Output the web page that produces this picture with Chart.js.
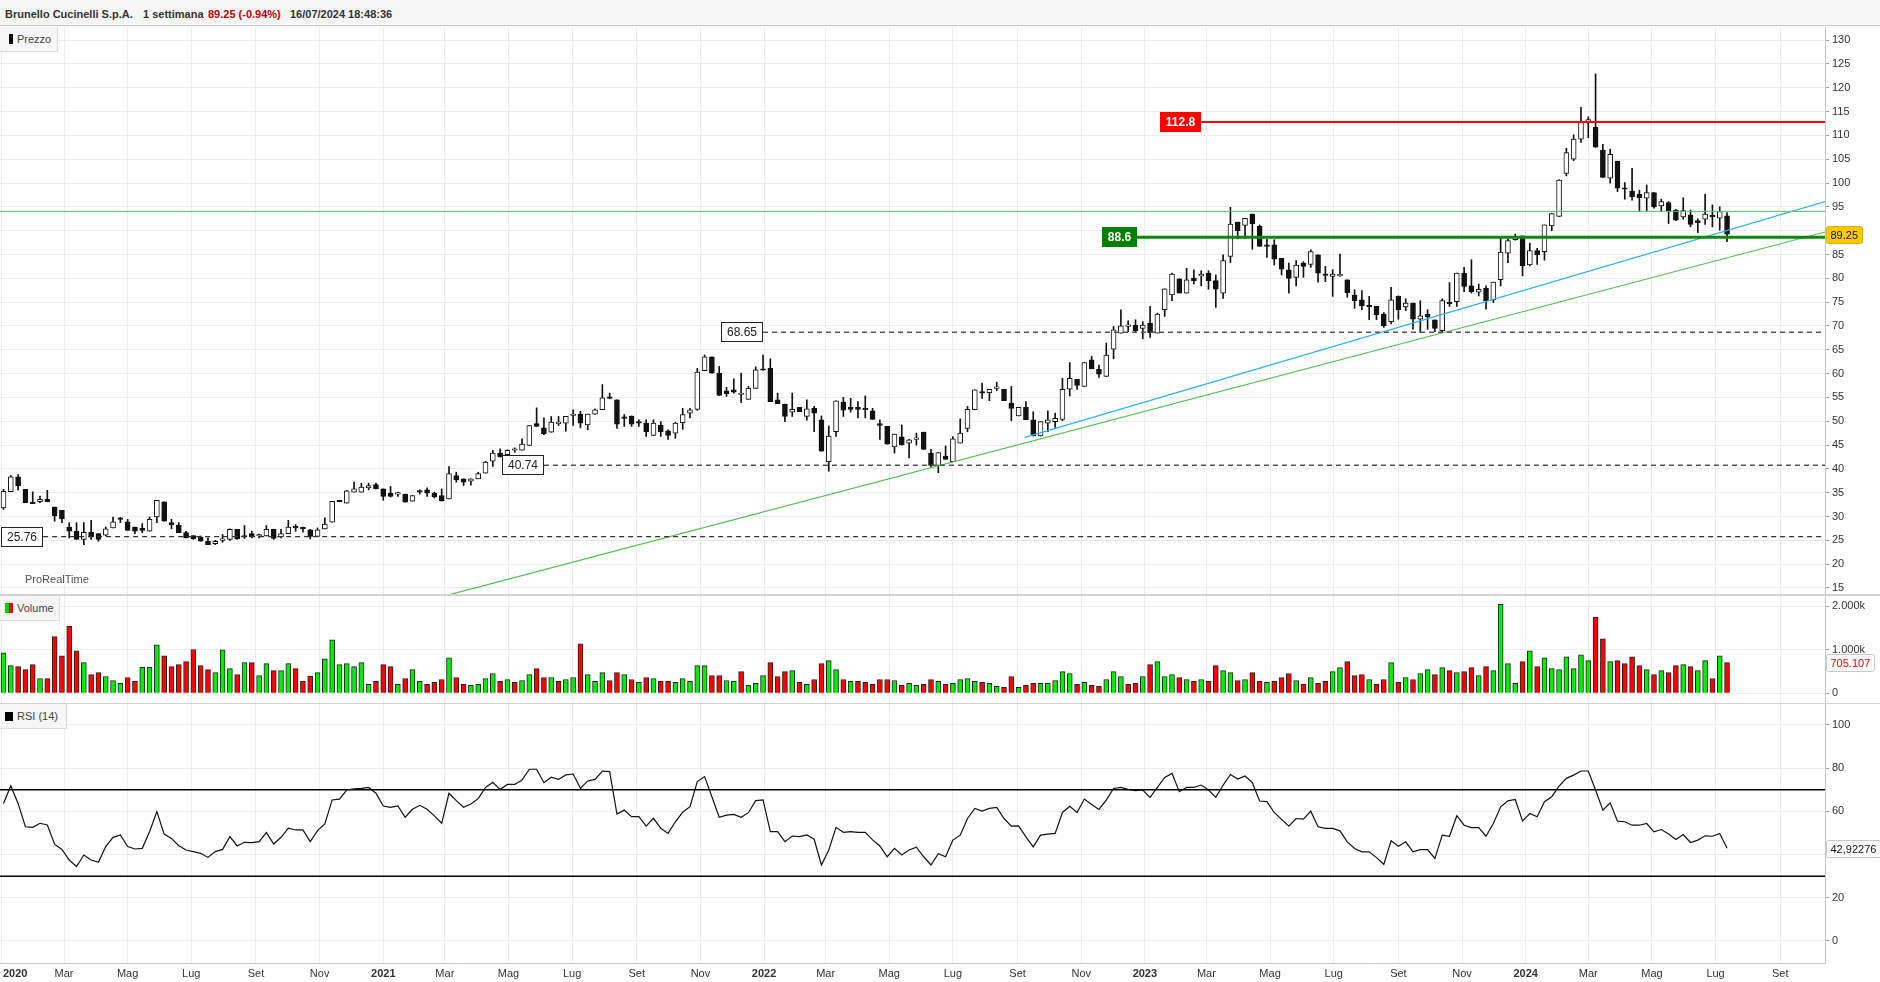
<!DOCTYPE html>
<html lang="it">
<head>
<meta charset="UTF-8">
<title>Brunello Cucinelli S.p.A. - 1 settimana</title>
<script src="https://cdn.jsdelivr.net/npm/chart.js"></script>
<style>
  html, body { margin: 0; padding: 0; background: #fff; }
  body { width: 1880px; height: 982px; position: relative; overflow: hidden;
         font-family: Arial, "Liberation Sans", sans-serif; color: #333; }
  #header { position: absolute; left: 0; top: 0; width: 1880px; height: 26px;
            background: #f6f6f6; border-bottom: 1px solid #cfcfcf; box-sizing: border-box;
            font-size: 11px; font-weight: bold; color: #333; }
  #header span { position: absolute; top: 8px; white-space: nowrap; }
  .sep { position: absolute; left: 0; width: 1880px; background: #d2d2d2; }
  canvas { position: absolute; left: 0; }
  .tag { position: absolute; left: 0; height: 25px; background: #f6f6f6; border-right: 1px solid #dcdcdc;
         border-bottom: 1px solid #dcdcdc; box-sizing: border-box; font-size: 11px; color: #444; line-height: 24px; white-space: nowrap; }
  .tag i { display: inline-block; width: 4px; height: 10px; vertical-align: -1px; margin-right: 4px; }
  #wm { position: absolute; left: 25px; top: 573px; font-size: 11px; color: #555; }
</style>
</head>
<body>
<div id="header">
  <span style="left:5px">Brunello Cucinelli S.p.A.</span>
  <span style="left:143px">1 settimana</span>
  <span style="left:208px;color:#c40000">89.25 (-0.94%)</span>
  <span style="left:290px">16/07/2024 18:48:36</span>
</div>
<canvas id="cPrice" width="1880" height="567" style="top:27px"></canvas>
<div class="sep" style="top:594px;height:2px"></div>
<canvas id="cVol" width="1880" height="107" style="top:596px"></canvas>
<div class="sep" style="top:703px;height:1px"></div>
<canvas id="cRsi" width="1880" height="278" style="top:704px"></canvas>

<div class="tag" style="top:27px;width:58px;padding-left:9px"><i style="background:#000"></i>Prezzo</div>
<div class="tag" style="top:596px;width:60px;padding-left:5px"><i style="background:#00d000;margin-right:0"></i><i style="background:#f00000"></i>Volume</div>
<div class="tag" style="top:704px;width:67px;padding-left:5px"><i style="background:#000;width:8px;height:9px"></i>RSI (14)</div>
<div id="wm">ProRealTime</div>

<script>
// ---- data (weekly candles, first week 2020-01-03) ----
const firstWeek = '2020-01-03';

const open = [
  31.8, 35.2, 38.3, 35.7, 33.0, 33.1, 33.6, 32.0, 31.3, 27.8,
  26.9, 25.2, 26.7, 26.4, 26.1, 27.6, 29.7, 28.9, 27.8, 27.5,
  26.9, 29.9, 33.1, 28.7, 28.2, 26.6, 26.0, 25.7, 24.8, 24.3,
  25.0, 25.2, 27.3, 25.9, 26.4, 25.9, 25.9, 27.3, 25.7, 26.4,
  27.7, 27.8, 27.2, 25.8, 27.4, 28.8, 33.3, 32.8, 35.1, 35.1,
  36.0, 36.7, 35.8, 34.9, 34.7, 34.7, 33.2, 35.2, 35.6, 34.9,
  34.4, 33.7, 38.6, 37.9, 37.4, 37.9, 39.1, 41.6, 43.3, 43.0,
  43.9, 43.9, 44.9, 49.5, 48.6, 47.7, 49.5, 49.6, 51.2, 51.5,
  49.2, 51.5, 52.4, 55.1, 54.5, 50.7, 51.1, 49.7, 49.6, 47.0,
  49.2, 48.0, 47.5, 49.7, 51.7, 52.5, 60.6, 63.5, 60.1, 56.4,
  56.6, 55.6, 54.6, 56.9, 60.9, 61.1, 54.5, 53.6, 51.9, 52.9,
  51.0, 52.7, 50.3, 41.5, 47.8, 54.0, 52.9, 52.9, 52.7, 52.2,
  49.5, 48.9, 44.6, 46.7, 45.4, 46.2, 47.7, 43.3, 40.7, 42.7,
  41.5, 45.4, 48.5, 52.4, 56.2, 56.0, 56.9, 56.7, 53.8, 51.1,
  52.9, 50.3, 46.9, 49.6, 49.9, 50.4, 56.7, 58.8, 57.3, 62.9,
  60.9, 59.4, 65.1, 68.5, 69.9, 70.2, 69.5, 70.6, 68.5, 73.4,
  76.5, 79.9, 76.9, 80.0, 80.5, 81.1, 79.5, 76.9, 84.6, 91.8,
  91.1, 93.5, 90.9, 87.0, 87.0, 84.2, 81.8, 80.2, 83.2, 82.9,
  84.9, 80.8, 80.4, 80.5, 79.7, 76.5, 75.5, 74.1, 74.1, 72.5,
  70.9, 76.2, 74.0, 74.8, 71.4, 72.5, 71.3, 69.0, 75.0, 75.1,
  81.1, 78.4, 77.1, 77.9, 75.5, 79.7, 85.3, 88.1, 88.9, 82.8,
  85.8, 85.6, 91.0, 93.0, 102.0, 105.0, 109.2, 113.0, 111.7, 106.9,
  101.0, 104.6, 99.0, 98.3, 97.7, 96.8, 98.0, 95.2, 95.9, 94.3,
  92.9, 93.3, 92.1, 92.4, 93.1, 92.6, 93.1
];
const high = [
  35.7, 38.6, 38.8, 35.7, 35.2, 34.3, 35.5, 32.0, 31.3, 28.7,
  28.7, 28.7, 29.2, 26.4, 27.8, 29.9, 29.8, 29.4, 27.8, 28.5,
  29.9, 33.4, 33.1, 29.4, 28.7, 26.9, 26.0, 25.9, 25.5, 25.0,
  26.2, 27.4, 27.3, 28.1, 26.9, 26.3, 28.1, 27.3, 27.3, 29.2,
  28.3, 27.8, 27.3, 27.6, 29.7, 33.2, 33.4, 35.5, 37.2, 37.0,
  37.0, 37.0, 35.8, 36.3, 35.1, 34.7, 34.4, 35.6, 36.0, 35.1,
  35.8, 40.5, 39.3, 37.9, 37.9, 39.3, 41.6, 43.9, 44.2, 44.0,
  44.4, 46.3, 49.1, 52.8, 50.7, 51.0, 51.0, 51.0, 52.4, 52.1,
  51.5, 52.6, 57.7, 55.9, 54.5, 51.4, 51.1, 50.3, 50.3, 50.3,
  49.9, 48.2, 49.8, 52.7, 52.7, 61.1, 63.9, 63.5, 61.5, 57.1,
  58.9, 60.1, 57.3, 61.4, 63.9, 63.1, 55.9, 53.6, 55.9, 52.9,
  54.5, 53.1, 51.1, 49.0, 54.3, 55.0, 54.8, 54.1, 55.3, 52.7,
  50.3, 48.9, 47.3, 49.2, 46.2, 47.5, 47.7, 44.1, 43.4, 44.8,
  46.8, 50.5, 53.1, 56.6, 58.0, 56.7, 58.2, 56.7, 57.3, 52.9,
  54.1, 52.0, 49.9, 52.2, 51.7, 59.0, 62.3, 58.8, 62.3, 63.6,
  61.8, 66.4, 69.9, 73.4, 71.1, 71.3, 70.9, 74.1, 72.7, 77.8,
  81.1, 79.9, 82.1, 81.8, 81.6, 81.6, 80.7, 84.9, 94.9, 91.8,
  92.6, 93.5, 91.2, 88.2, 88.1, 84.2, 83.2, 83.7, 83.5, 86.0,
  84.9, 82.5, 81.8, 85.1, 79.7, 77.6, 77.4, 76.2, 74.1, 72.8,
  78.1, 76.3, 75.7, 74.8, 75.3, 73.4, 71.3, 75.7, 79.1, 81.1,
  82.3, 83.9, 78.8, 78.4, 79.2, 88.6, 88.3, 89.3, 88.9, 87.4,
  86.3, 91.2, 93.6, 100.7, 107.3, 110.1, 115.9, 113.9, 122.9, 108.1,
  107.1, 104.6, 100.1, 103.1, 98.5, 99.6, 98.0, 96.6, 96.1, 94.5,
  96.9, 94.3, 92.5, 97.7, 95.4, 95.0, 93.8
];
const low = [
  31.5, 35.2, 35.5, 32.9, 32.7, 32.9, 33.1, 29.0, 28.7, 25.5,
  25.2, 24.1, 25.2, 24.8, 25.9, 27.6, 28.7, 27.1, 26.4, 26.6,
  26.9, 28.7, 29.0, 27.4, 26.6, 25.5, 25.2, 24.8, 24.1, 24.1,
  24.6, 25.0, 25.2, 25.4, 25.5, 25.5, 25.9, 25.2, 25.5, 26.4,
  26.9, 26.7, 25.3, 25.8, 27.4, 28.8, 33.1, 32.8, 35.1, 35.1,
  35.6, 35.8, 33.4, 34.1, 34.2, 33.0, 33.2, 34.7, 34.2, 33.9,
  33.2, 33.7, 37.2, 36.5, 36.6, 37.9, 39.1, 40.5, 42.5, 42.8,
  43.5, 43.9, 44.9, 48.9, 47.2, 47.7, 49.1, 47.9, 49.1, 48.6,
  48.2, 51.4, 52.4, 54.7, 48.5, 48.9, 48.9, 48.9, 46.8, 47.0,
  46.8, 46.2, 46.4, 48.3, 50.7, 52.3, 60.6, 60.1, 55.4, 55.2,
  55.9, 53.9, 54.6, 56.9, 60.7, 54.1, 53.7, 49.9, 51.0, 52.0,
  50.2, 47.8, 43.7, 39.5, 46.8, 51.0, 51.9, 50.7, 50.7, 50.4,
  46.2, 45.2, 43.3, 45.0, 42.3, 45.0, 44.1, 40.3, 39.2, 42.0,
  41.5, 45.4, 47.8, 52.4, 54.8, 54.3, 56.4, 54.3, 50.1, 51.1,
  50.3, 46.9, 46.9, 47.8, 48.7, 50.1, 55.3, 56.7, 57.3, 61.0,
  59.2, 59.4, 63.1, 68.5, 68.8, 68.8, 67.3, 67.6, 68.5, 72.0,
  75.3, 76.9, 76.9, 78.8, 78.4, 77.7, 73.9, 75.8, 83.3, 88.3,
  88.3, 86.1, 86.7, 84.4, 82.8, 80.7, 76.9, 78.4, 80.2, 82.3,
  79.2, 79.3, 76.2, 80.4, 76.0, 73.7, 73.4, 71.3, 71.3, 69.7,
  70.4, 71.4, 73.2, 69.3, 68.6, 69.3, 68.8, 68.8, 74.1, 74.1,
  77.2, 76.9, 76.3, 73.5, 74.9, 78.4, 83.3, 88.0, 80.5, 82.6,
  82.9, 83.8, 90.0, 93.0, 101.5, 104.7, 108.5, 109.5, 107.5, 101.2,
  100.0, 98.2, 96.6, 96.4, 94.1, 94.1, 94.7, 94.1, 91.5, 92.1,
  92.4, 90.8, 89.6, 91.3, 90.8, 90.1, 87.7
];
const close = [
  35.3, 38.3, 36.4, 32.9, 32.7, 33.6, 33.1, 30.1, 29.5, 26.9,
  25.2, 26.7, 25.7, 25.2, 27.4, 28.9, 29.4, 27.1, 26.9, 27.1,
  29.4, 33.4, 29.0, 28.3, 26.6, 25.5, 25.3, 24.8, 24.1, 24.8,
  25.3, 27.3, 25.3, 25.7, 25.7, 25.9, 27.3, 25.4, 26.4, 27.8,
  27.6, 27.4, 25.8, 27.2, 28.4, 33.2, 33.1, 35.4, 35.8, 36.2,
  36.5, 35.8, 34.2, 34.2, 34.7, 33.0, 34.4, 35.1, 34.9, 34.1,
  33.3, 39.0, 37.7, 37.2, 37.9, 39.0, 41.4, 43.3, 42.5, 43.9,
  43.9, 45.2, 49.1, 48.9, 47.4, 49.8, 49.5, 51.0, 51.2, 49.6,
  51.5, 52.4, 54.9, 54.8, 49.4, 50.6, 49.4, 49.6, 47.8, 49.6,
  47.8, 47.0, 49.6, 51.4, 52.4, 60.3, 63.5, 60.1, 55.4, 55.8,
  56.1, 55.6, 56.9, 60.8, 60.7, 54.1, 53.7, 51.0, 52.5, 52.0,
  52.6, 51.7, 43.7, 46.9, 54.3, 52.3, 52.5, 52.5, 52.4, 50.4,
  49.1, 45.2, 47.3, 45.0, 46.1, 46.2, 44.1, 40.7, 43.4, 42.0,
  46.3, 47.5, 52.5, 56.6, 55.9, 56.7, 56.9, 54.3, 52.7, 52.9,
  50.3, 46.9, 49.9, 50.3, 50.6, 56.7, 59.0, 57.5, 62.3, 61.0,
  59.9, 63.9, 69.2, 70.0, 69.9, 69.0, 70.2, 68.6, 72.5, 77.8,
  80.9, 76.9, 79.7, 79.5, 80.5, 79.5, 77.7, 83.7, 91.4, 90.0,
  92.6, 91.4, 86.7, 86.7, 84.0, 81.9, 80.0, 82.8, 82.5, 85.6,
  81.1, 80.6, 80.9, 80.5, 77.0, 75.3, 74.2, 74.0, 72.3, 70.0,
  75.5, 73.4, 74.8, 71.4, 72.1, 71.9, 69.5, 75.3, 74.6, 81.1,
  78.3, 77.2, 77.7, 75.3, 79.2, 85.5, 87.9, 88.6, 82.6, 85.8,
  84.9, 91.2, 93.6, 100.6, 106.4, 109.2, 112.9, 113.0, 107.5, 101.2,
  106.0, 98.9, 98.7, 97.1, 96.9, 98.0, 95.0, 96.1, 94.2, 92.2,
  94.2, 91.3, 91.7, 93.5, 92.9, 94.0, 89.25
];

// volume in thousands of shares, and its colour code (g = up, r = down)
const volume = [
  932, 636, 614, 545, 659, 341, 341, 1303, 864, 1545,
  977, 705, 432, 477, 386, 295, 227, 364, 273, 598,
  598, 1114, 864, 614, 659, 727, 1008, 636, 545, 477,
  1000, 568, 432, 705, 705, 409, 682, 523, 523, 682,
  568, 273, 394, 477, 795, 1227, 659, 682, 614, 705,
  205, 273, 659, 614, 205, 341, 545, 273, 205, 250,
  318, 818, 364, 205, 182, 205, 341, 455, 273, 318,
  250, 295, 432, 568, 364, 364, 273, 318, 364, 1136,
  432, 273, 477, 295, 477, 432, 318, 250, 364, 341,
  273, 273, 250, 341, 273, 636, 636, 409, 409, 295,
  273, 500, 182, 227, 409, 705, 386, 500, 523, 250,
  205, 318, 682, 750, 545, 318, 273, 273, 250, 205,
  318, 318, 295, 182, 227, 182, 205, 318, 273,
  205, 227, 318, 341, 273, 250, 227, 159, 136, 386,
  136, 182, 227, 227, 227, 295, 500, 455, 205, 250,
  182, 159, 318, 500, 386, 205, 227, 386, 659, 727,
  386, 432, 364, 318, 273, 318, 273, 636, 523, 477,
  295, 318, 477, 273, 250, 273, 364, 455, 295, 205,
  364, 227, 273, 500, 591, 727, 409, 432, 318, 205,
  318, 705, 250, 364, 318, 455, 545, 432, 591, 523,
  477, 500, 591, 409, 614, 523, 2045, 682, 227, 727,
  977, 614, 818, 568, 545, 841, 568, 886, 750, 1750,
  1250, 727, 750, 682, 841, 636, 545, 432, 523, 477,
  636, 659, 614, 523, 750, 341, 864, 705.107
];
const volumeDir = (
  'ggrrrgrrrr' + 'rgrrgggrrg' + 'ggrrrrrrrg' + 'ggrgrggrgg' + 'rrrggggggg' +
  'grrrgrggrr' + 'rgrrggggrg' + 'rggrrgrggr' + 'gggrrgrgrg' + 'rrgggggrrg' +
  'grgggrrrgr' + 'grrggrgrrr' + 'rrgrggrrg' +
  'rggggrggrr' + 'grrgggggrg' + 'rrgggrrgrg' + 'ggrgrgrrgg' + 'rgrrgrrrgr' +
  'grrggrrrgr' + 'rgrgrggrgr' + 'grrgrggggr' + 'grgggggggr' + 'rgrrrrgrgr' +
  'rgrggrgr'
).split('');

const rsi = [
  63.7, 71.8, 63.7, 52.9, 52.6, 54.5, 53.7, 44.8, 42.4, 37.5,
  34.4, 39.8, 37.5, 36.4, 43.7, 48.0, 49.1, 43.7, 42.6, 42.9,
  50.6, 59.9, 49.5, 47.5, 44.1, 42.1, 41.4, 40.6, 38.7, 41.4,
  42.4, 48.3, 44.0, 45.7, 45.5, 46.0, 50.2, 44.9, 48.0, 52.2,
  51.4, 51.4, 46.0, 51.1, 54.2, 65.3, 65.7, 69.9, 70.4, 70.7,
  71.1, 68.4, 62.5, 61.9, 62.5, 57.3, 61.0, 62.8, 61.0, 57.9,
  54.5, 68.4, 65.0, 61.9, 63.4, 65.9, 71.1, 73.5, 70.2, 72.5,
  72.5, 74.5, 79.5, 79.5, 73.3, 75.8, 74.8, 76.9, 77.3, 70.7,
  74.1, 74.8, 78.7, 78.4, 58.8, 60.6, 57.6, 57.6, 53.2, 56.8,
  52.2, 49.8, 55.2, 59.6, 62.2, 73.8, 76.1, 66.8, 57.3, 58.3,
  58.6, 57.3, 59.4, 65.0, 65.3, 50.6, 50.6, 46.0, 48.6, 48.3,
  49.1, 47.1, 35.2, 42.1, 52.6, 50.3, 50.6, 50.3, 50.3, 46.8,
  44.0, 39.0, 42.9, 39.8, 42.1, 43.4, 39.0, 35.2, 40.4, 39.0,
  46.7, 49.0, 56.7, 61.4, 60.1, 61.4, 61.8, 56.7, 53.2, 53.3,
  48.2, 43.6, 49.0, 49.5, 49.8, 59.5, 62.4, 59.5, 65.7, 63.2,
  60.9, 65.2, 70.6, 71.1, 70.2, 69.6, 69.9, 66.5, 71.1, 75.7,
  77.6, 69.1, 71.1, 71.1, 72.2, 69.9, 66.5, 72.2, 77.1, 75.0,
  76.4, 73.3, 64.8, 64.5, 59.5, 56.3, 53.2, 56.7, 56.4, 60.1,
  52.9, 52.1, 52.1, 51.0, 45.9, 42.8, 41.3, 41.3, 38.6, 35.5,
  46.4, 43.9, 45.9, 41.3, 42.3, 42.3, 38.2, 49.0, 48.5, 58.0,
  53.6, 52.5, 52.5, 48.5, 54.4, 62.1, 64.9, 65.5, 55.6, 59.0,
  57.5, 64.5, 66.8, 71.7, 75.3, 76.8, 78.7, 78.7, 69.9, 60.6,
  64.0, 55.5, 55.2, 53.6, 53.6, 54.4, 50.5, 51.6, 49.5, 47.0,
  49.3, 45.6, 46.7, 48.7, 48.5, 49.8, 42.92276
];
const rsiBands = [70, 30];

// drawn levels and trend lines
const levelPrices = [112.8, 88.6, 94.05, 68.65, 40.74, 25.76];
const levelStarts = ['2023-02-24', '2022-12-24', '2019-12-30', '2021-12-31', '2021-06-04', '2020-02-10'];
const levelTags   = ['112.8', '88.6', null, '68.65', '40.74', '25.76'];
const trendFrom   = ['2021-03-05', '2022-09-08'];
const trendFromPrice = [13.56, 46.6];
const trendTo     = ['2024-10-20', '2024-10-20'];
const trendToPrice   = [90.07, 96.5];

// axis ticks
const priceTicks = [15, 20, 25, 30, 35, 40, 45, 50, 55, 60, 65, 70, 75, 80, 85, 90, 95, 100, 105, 110, 115, 120, 125, 130];
const volTicks = [0, 1000, 2000];
const volTickLabels = ['0', '1.000k', '2.000k'];
const rsiTicks = [0, 20, 40, 60, 80, 100];
const xTickDates = [
  '2020-01-01', '2020-03-01', '2020-05-01', '2020-07-01', '2020-09-01', '2020-11-01',
  '2021-01-01', '2021-03-01', '2021-05-01', '2021-07-01', '2021-09-01', '2021-11-01',
  '2022-01-01', '2022-03-01', '2022-05-01', '2022-07-01', '2022-09-01', '2022-11-01',
  '2023-01-01', '2023-03-01', '2023-05-01', '2023-07-01', '2023-09-01', '2023-11-01',
  '2024-01-01', '2024-03-01', '2024-05-01', '2024-07-01', '2024-09-01'
];
const xTickLabels = [
  '2020', 'Mar', 'Mag', 'Lug', 'Set', 'Nov',
  '2021', 'Mar', 'Mag', 'Lug', 'Set', 'Nov',
  '2022', 'Mar', 'Mag', 'Lug', 'Set', 'Nov',
  '2023', 'Mar', 'Mag', 'Lug', 'Set', 'Nov',
  '2024', 'Mar', 'Mag', 'Lug', 'Set'
];

// ---- helpers ----
const FONT = 'Arial, "Liberation Sans", sans-serif';
const GRID = '#ededed';
const DAY0 = Date.UTC(2020, 0, 1);
const dayOf = s => (Date.parse(s) - DAY0) / 864e5;
const weekDay = i => dayOf(firstWeek) + 7 * i;
const X_MIN = -1.355, X_MAX = 1747.9;
const xTickDays = xTickDates.map(dayOf);

Chart.defaults.font.family = FONT;
Chart.defaults.animation = false;

function xScale(h, showBorder) {
  return {
    type: 'linear', min: X_MIN, max: X_MAX, offset: false,
    grid: { color: GRID, drawTicks: false, offset: false },
    border: { display: showBorder, color: '#c8c8c8' },
    ticks: { display: false },
    afterBuildTicks: s => { s.ticks = xTickDays.map(v => ({ value: v })); },
    afterFit: s => { s.height = h; s.paddingLeft = 0; s.paddingRight = 0; }
  };
}
function yScale(min, max, ticks, cb) {
  return {
    position: 'right', min, max,
    grid: { color: GRID, drawTicks: true, tickLength: 4, tickColor: '#9a9a9a' },
    border: { display: true, color: '#c8c8c8' },
    ticks: { color: '#333', font: { size: 11 }, padding: 3, autoSkip: false, callback: cb },
    afterBuildTicks: s => { s.ticks = ticks.map(v => ({ value: v })); },
    afterFit: s => { s.width = 55; s.paddingTop = 0; s.paddingBottom = 0; }
  };
}
function valueTag(id, text, value, fill, stroke, color) {
  return {
    id,
    afterDraw(chart) {
      const { ctx, chartArea, scales: { y } } = chart;
      ctx.save();
      ctx.font = '11px ' + FONT;
      const w = Math.round(ctx.measureText(text).width + 8), h = 17;
      const x0 = chartArea.right + 1, y0 = Math.round(y.getPixelForValue(value) - h / 2);
      ctx.beginPath();
      ctx.roundRect(x0 + 0.5, y0 + 0.5, w, h, 2);
      ctx.fillStyle = fill; ctx.fill();
      if (stroke) { ctx.strokeStyle = stroke; ctx.lineWidth = 1; ctx.stroke(); }
      ctx.fillStyle = color; ctx.textAlign = 'left'; ctx.textBaseline = 'middle';
      ctx.fillText(text, x0 + 4.5, y0 + h / 2 + 1);
      ctx.restore();
    }
  };
}

// ---- price chart ----
const last = close.length - 1;
const bodies = close.map((c, i) => ({ x: weekDay(i), y: [Math.min(open[i], c), Math.max(open[i], c)] }));
const wicks = close.map((c, i) => ({ x: weekDay(i), y: [Math.min(low[i], open[i], c), Math.max(high[i], open[i], c)] }));
const bodyFill = close.map((c, i) => c >= open[i] ? '#ffffff' : '#111111');

const levelStyles = [
  { color: '#ff0000', width: 2, dash: [], box: '#ff0000', text: '#fff', bold: true },
  { color: '#0b870b', width: 3, dash: [], box: '#008000', text: '#fff', bold: true },
  { color: '#5fbf5f', width: 1, dash: [] },
  { color: '#555', width: 1.5, dash: [5, 4], box: '#fff', stroke: '#222', text: '#222' },
  { color: '#555', width: 1.5, dash: [5, 4], box: '#fff', stroke: '#222', text: '#222' },
  { color: '#333', width: 1.3, dash: [5, 4], box: '#fff', stroke: '#222', text: '#222' }
];
const trendColors = ['#4cbf4c', '#2ab4f0'];

const lineSets = [];
levelPrices.forEach((p, k) => {
  const st = levelStyles[k];
  lineSets.push({
    type: 'line', data: [{ x: dayOf(levelStarts[k]), y: p }, { x: X_MAX, y: p }],
    borderColor: st.color, borderWidth: st.width, borderDash: st.dash, pointRadius: 0, tension: 0
  });
});
trendFrom.forEach((d, k) => {
  lineSets.push({
    type: 'line', data: [{ x: dayOf(d), y: trendFromPrice[k] }, { x: dayOf(trendTo[k]), y: trendToPrice[k] }],
    borderColor: trendColors[k], borderWidth: 1.2, pointRadius: 0, tension: 0
  });
});

const levelTagPlugin = {
  id: 'levelTags',
  afterDatasetsDraw(chart) {
    const { ctx, scales: { x, y } } = chart;
    ctx.save();
    levelPrices.forEach((p, k) => {
      const txt = levelTags[k];
      if (!txt) return;
      const st = levelStyles[k];
      ctx.font = (st.bold ? 'bold ' : '') + '12px ' + FONT;
      const w = Math.round(ctx.measureText(txt).width + 12), h = 20;
      const right = Math.round(x.getPixelForValue(dayOf(levelStarts[k])));
      const top = Math.round(y.getPixelForValue(p) - h / 2);
      ctx.fillStyle = st.box;
      ctx.fillRect(right - w, top, w, h);
      if (st.stroke) {
        ctx.strokeStyle = st.stroke; ctx.lineWidth = 1;
        ctx.strokeRect(right - w + 0.5, top + 0.5, w - 1, h - 1);
      }
      ctx.fillStyle = st.text; ctx.textAlign = 'center'; ctx.textBaseline = 'middle';
      ctx.fillText(txt, right - w / 2, top + h / 2 + 1);
    });
    ctx.restore();
  }
};

new Chart(document.getElementById('cPrice'), {
  type: 'bar',
  data: {
    datasets: [
      ...lineSets,
      { type: 'bar', data: bodies, backgroundColor: bodyFill, borderColor: '#111', borderWidth: 1,
        borderSkipped: false, barThickness: 5, grouped: false, minBarLength: 1.5 },
      { type: 'bar', data: wicks, backgroundColor: '#111', barThickness: 1, grouped: false }
    ]
  },
  options: {
    responsive: false, layout: { padding: 0 },
    plugins: { legend: { display: false }, tooltip: { enabled: false } },
    scales: {
      x: xScale(0, false),
      y: yScale(13.73, 132.75, priceTicks, v => String(v))
    }
  },
  plugins: [levelTagPlugin, valueTag('priceTag', close[last].toFixed(2), close[last], '#ffc800', '#e0b000', '#111')]
});

// ---- volume chart ----
new Chart(document.getElementById('cVol'), {
  type: 'bar',
  data: {
    datasets: [{
      data: volume.map((v, i) => ({ x: weekDay(i), y: v })),
      backgroundColor: volumeDir.map(d => d === 'g' ? '#00ee00' : '#ff0000'),
      borderColor: '#222', borderWidth: 1, borderSkipped: 'start', barThickness: 5, grouped: false
    }]
  },
  options: {
    responsive: false, layout: { padding: 0 },
    plugins: { legend: { display: false }, tooltip: { enabled: false } },
    scales: {
      x: xScale(0, false),
      y: yScale(-223, 2237, volTicks, v => volTickLabels[volTicks.indexOf(v)])
    }
  },
  plugins: [valueTag('volTag', volume[last].toFixed(3), volume[last], '#fff', '#c8c8c8', '#ff0000')]
});

// ---- RSI chart ----
const xLabelPlugin = {
  id: 'xLabels',
  afterDraw(chart) {
    const { ctx, scales: { x } } = chart;
    ctx.save();
    ctx.fillStyle = '#333'; ctx.textAlign = 'center'; ctx.textBaseline = 'middle';
    xTickDays.forEach((d, i) => {
      const txt = xTickLabels[i];
      ctx.font = (/^\d{4}$/.test(txt) ? 'bold ' : '') + '11px ' + FONT;
      const w = ctx.measureText(txt).width;
      const px = Math.max(x.getPixelForValue(d), 3 + w / 2);
      ctx.fillText(txt, px, x.top + 11);
    });
    ctx.restore();
  }
};

new Chart(document.getElementById('cRsi'), {
  type: 'line',
  data: {
    datasets: [
      { data: rsi.map((v, i) => ({ x: weekDay(i), y: v })), borderColor: '#111', borderWidth: 1.2,
        pointRadius: 0, tension: 0 },
      ...rsiBands.map(b => ({ data: [{ x: X_MIN, y: b }, { x: X_MAX, y: b }], borderColor: '#000',
        borderWidth: 1.6, pointRadius: 0 }))
    ]
  },
  options: {
    responsive: false, layout: { padding: 0 },
    plugins: { legend: { display: false }, tooltip: { enabled: false } },
    scales: {
      x: xScale(19, true),
      y: yScale(-10.19, 109.72, rsiTicks, v => String(v))
    }
  },
  plugins: [xLabelPlugin, valueTag('rsiTag', rsi[last].toFixed(5).replace('.', ','), rsi[last], '#fff', '#c8c8c8', '#111')]
});
</script>
</body>
</html>
